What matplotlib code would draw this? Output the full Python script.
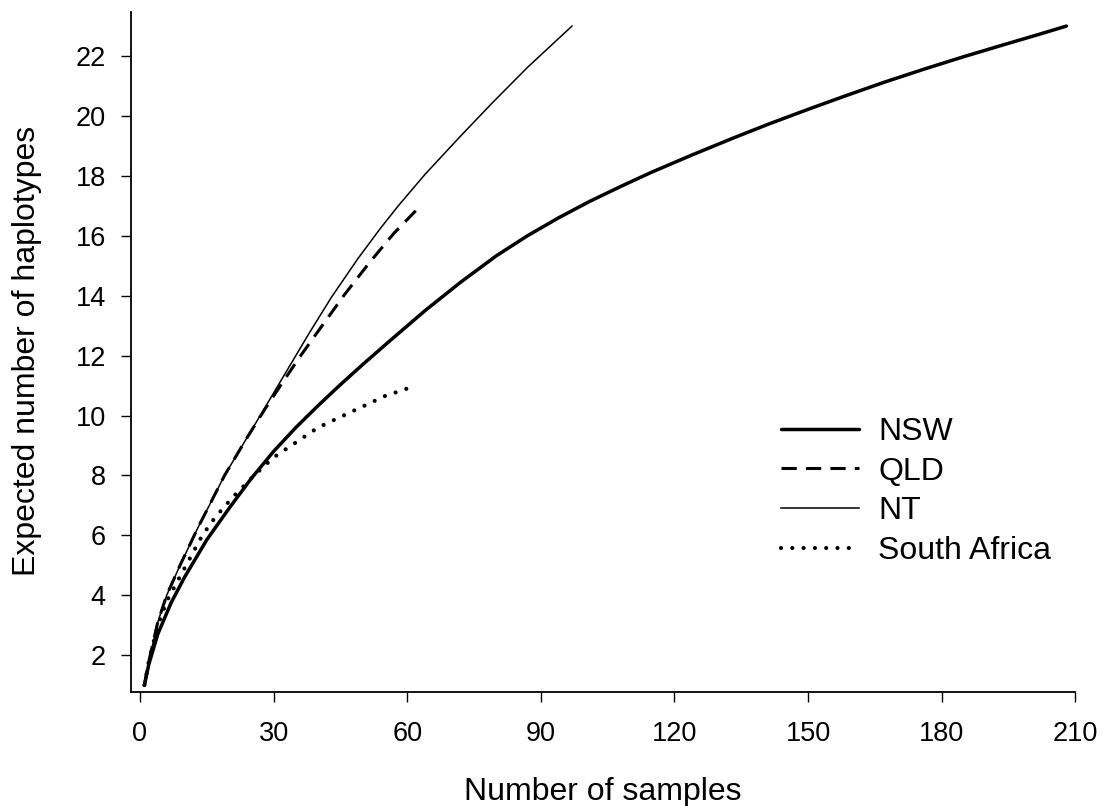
import matplotlib
matplotlib.use("Agg")
import matplotlib.pyplot as plt

plt.rcParams["font.family"] = ["Liberation Sans", "DejaVu Sans"]

# values
nsw_x = [1, 2, 4, 7, 10, 15, 20, 25, 30, 35, 40, 45, 50, 56, 64, 72, 80, 87, 94, 101,
         108, 115, 124, 133, 141, 150, 158, 167, 176, 185, 194, 202, 208]
nsw_y = [1.0, 1.7, 2.7, 3.75, 4.6, 5.85, 6.9, 7.9, 8.8, 9.6, 10.33, 11.03, 11.7, 12.48, 13.5, 14.45, 15.33, 16.0, 16.6, 17.15,
         17.65, 18.13, 18.7, 19.25, 19.72, 20.22, 20.65, 21.12, 21.56, 21.98, 22.38, 22.73, 23.0]

qld_x = [1, 2, 4, 6, 9, 13, 19, 24, 28, 32, 36, 41, 46, 51.5, 57, 63]
qld_y = [1.0, 1.8, 3.1, 4.0, 5.0, 6.25, 8.0, 9.25, 10.2, 11.1, 11.98, 13.02, 14.05, 15.1, 16.08, 17.0]

nt_x = [1, 2, 4, 6, 9, 13, 19, 24, 28, 33, 38, 43, 49, 54, 58, 64, 72, 79, 87, 97]
nt_y = [1.0, 1.8, 3.1, 4.0, 5.0, 6.25, 8.0, 9.25, 10.25, 11.5, 12.75, 13.95, 15.25, 16.25, 17.0, 18.05, 19.33, 20.42, 21.62, 23.0]

sa_x = [1, 2, 4, 6, 10, 14, 17, 21, 26, 30, 35, 40, 45, 50, 55, 61]
sa_y = [1.0, 1.8, 3.0, 3.8, 4.9, 6.0, 6.62, 7.3, 8.05, 8.6, 9.1, 9.6, 9.95, 10.3, 10.65, 10.95]

fig = plt.figure(figsize=(11.04, 8.06), dpi=100)
ax = fig.add_axes([0.1187, 0.1418, 0.8553, 0.8437])

ax.plot(nsw_x, nsw_y, color="black", lw=2.5, label="NSW", solid_capstyle="round")
ax.plot(qld_x, qld_y, color="black", lw=2.2, linestyle=(0, (5, 3)), label="QLD")
ax.plot(nt_x, nt_y, color="black", lw=1.1, label="NT")
ax.plot(sa_x, sa_y, color="black", lw=3.0, linestyle=(0, (0.01, 2.7)),
        dash_capstyle="round", label="South Africa")

ax.set_xlim(-2, 210)
ax.set_ylim(0.78, 23.48)
ax.set_xticks(range(0, 211, 30))
ax.set_yticks(range(2, 23, 2))
ax.spines["top"].set_visible(False)
ax.spines["right"].set_visible(False)
for s in ["left", "bottom"]:
    ax.spines[s].set_linewidth(1.3)
ax.tick_params(length=7.2, width=1, labelsize=19.5, pad=11)
ax.tick_params(axis="x", pad=14)

fig.text(603 / 1104, 1 - 792 / 806, "Number of samples", ha="center", va="center", fontsize=23)
fig.text(27 / 1104, 1 - 351 / 806, "Expected number of haplotypes", ha="center", va="center",
         rotation=90, fontsize=23)

ax.legend(frameon=False, fontsize=23, loc="upper left",
          bbox_to_anchor=(781 / 1104, 1 - 417 / 806), bbox_transform=fig.transFigure,
          borderaxespad=0, borderpad=0, handlelength=2.45, handletextpad=0.6,
          labelspacing=0.3)

fig.savefig("out.png", dpi=100)
